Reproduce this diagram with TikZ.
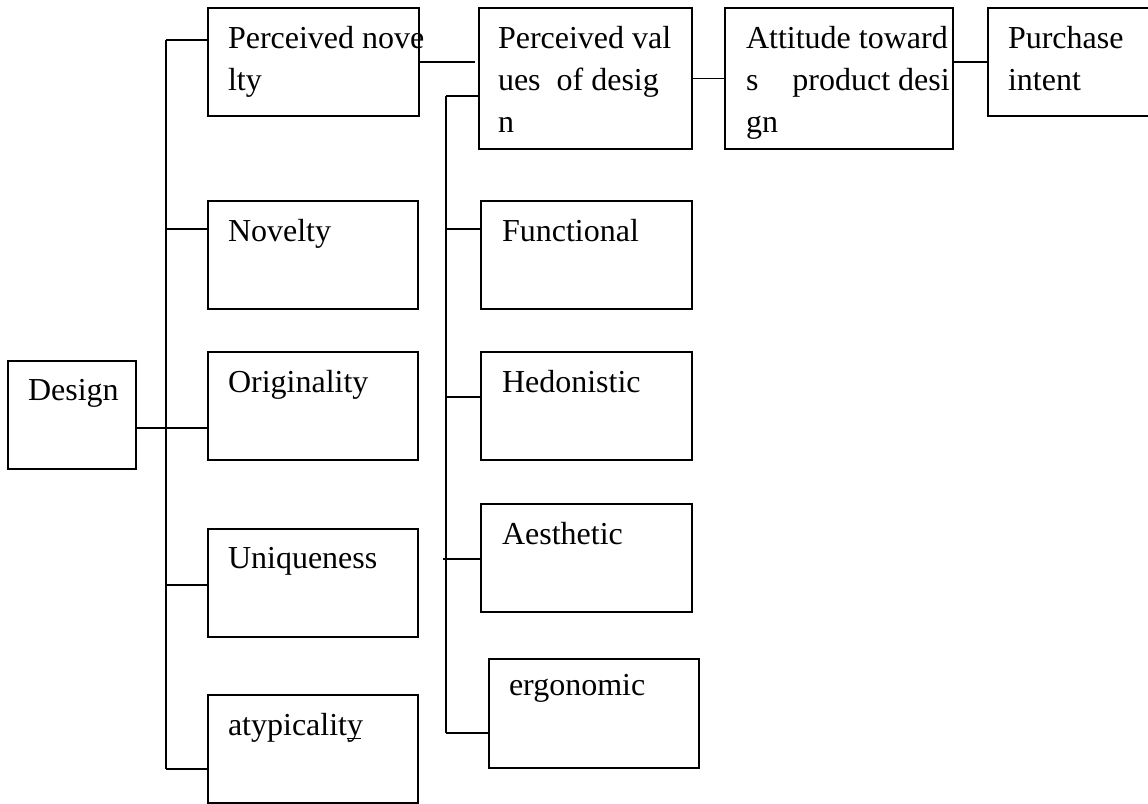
\documentclass[tikz,border=0pt]{standalone}
\usepackage{fontspec}
\setmainfont{Liberation Serif}
\usepackage{tikz}
\usetikzlibrary{positioning, calc}

\begin{document}
\begin{tikzpicture}[x=1pt, y=-1pt, line width=2pt, font=\fontsize{32}{42}\selectfont]
        % Define block styles
        \tikzstyle{block} = [rectangle, draw, anchor=north west, minimum width=210pt, minimum height=108pt, inner sep=0pt]
        \tikzstyle{txt} = [anchor=north west, inner sep=0pt, align=left, xshift=20pt, yshift=-18pt]
        \tikzstyle{link} = [line width=1.8pt]

        \useasboundingbox (0,0) rectangle (1148,803);

        % Place nodes
        \node [block, minimum width=128pt] (design) at (7,360) {};
        \node [block, minimum width=211pt] (pnovelty) at (207,7) {};
        \node [block] (novelty) at (207,200) {};
        \node [block] (originality) at (207,351) {};
        \node [block] (uniqueness) at (207,528) {};
        \node [block] (atypicality) at (207,694) {};
        \node [block, minimum width=213pt, minimum height=141pt] (pvalues) at (478,7) {};
        \node [block, minimum width=228pt, minimum height=141pt] (attitude) at (724,7) {};
        \node [block, minimum width=180pt] (purchase) at (987,7) {};
        \node [block, minimum width=211pt] (functional) at (480,200) {};
        \node [block, minimum width=211pt] (hedonistic) at (480,351) {};
        \node [block, minimum width=211pt] (aesthetic) at (480,503) {};
        \node [block, minimum height=109pt] (ergonomic) at (488,658) {};

        % Text in the boxes
        \node [txt] (design_txt) at (design.north west) {Design};
        \node [txt] (pnovelty_txt) at (pnovelty.north west) {Perceived nove\\lty};
        \node [txt] (novelty_txt) at (novelty.north west) {Novelty};
        \node [txt] (originality_txt) at (originality.north west) {Originality};
        \node [txt] (uniqueness_txt) at (uniqueness.north west) {Uniqueness};
        \node [txt] (atypicality_txt) at (atypicality.north west) {atypicalit\rlap{\rule[-4pt]{0.45em}{1.5pt}}y};
        \node [txt, xshift=-1pt] (pvalues_txt) at (pvalues.north west) {Perceived val\\ues\ \ of desig\\n};
        \node [txt, xshift=1pt] (attitude_txt) at (attitude.north west) {Attitude toward\\s\hspace{34pt}product desi\\gn};
        \node [txt] (purchase_txt) at (purchase.north west) {Purchase\\intent};
        \node [txt, xshift=1pt] (functional_txt) at (functional.north west) {Functional};
        \node [txt, xshift=1pt] (hedonistic_txt) at (hedonistic.north west) {Hedonistic};
        \node [txt, xshift=1pt] (aesthetic_txt) at (aesthetic.north west) {Aesthetic};
        \node [txt, yshift=3pt] (ergonomic_txt) at (ergonomic.north west) {ergonomic};

        % Points on the two trunks
        \coordinate (ltop) at (166,40);
        \coordinate (lnov) at (166,229);
        \coordinate (ljoin) at (166,428);
        \coordinate (luni) at (166,585);
        \coordinate (lbot) at (166,769);
        \coordinate (rtop) at (446,96);
        \coordinate (rfun) at (446,229);
        \coordinate (rhed) at (446,397);
        \coordinate (raes) at (446,559);
        \coordinate (rbot) at (446,733);

        % Draw connections
        \draw [link] (ltop) -- (lbot);
        \draw [link] (design.east |- ljoin) -- (ljoin);
        \draw [link] (ltop) -- (ltop -| pnovelty.west);
        \draw [link] (lnov) -- (lnov -| novelty.west);
        \draw [link] (ljoin) -- (ljoin -| originality.west);
        \draw [link] (luni) -- (luni -| uniqueness.west);
        \draw [link] (lbot) -- (lbot -| atypicality.west);

        \draw [link] (rtop) -- (rbot);
        \draw [link] (rtop) -- (rtop -| pvalues.west);
        \draw [link] (rfun) -- (rfun -| functional.west);
        \draw [link] (rhed) -- (rhed -| hedonistic.west);
        \draw [link] ([xshift=-3pt]raes) -- (raes -| aesthetic.west);
        \draw [link] (rbot) -- (rbot -| ergonomic.west);

        \draw [link] (pnovelty.east) -- ([xshift=-3pt]pvalues.west |- pnovelty.east);
        \draw [link] (pvalues.east) -- (attitude.west |- pvalues.east);
        \draw [link] (attitude.east |- purchase.west) -- (purchase.west);
    \end{tikzpicture}
\end{document}
